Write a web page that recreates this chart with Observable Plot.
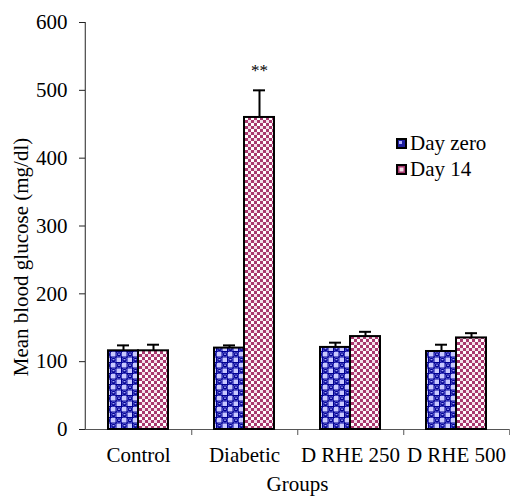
<!DOCTYPE html>
<html><head><meta charset="utf-8">
<script src="https://cdn.jsdelivr.net/npm/d3@7"></script>
<script src="https://cdn.jsdelivr.net/npm/@observablehq/plot@0.6"></script>
<style>
body{margin:0;background:#fff}
#wrap{position:relative;width:510px;height:497px;font-family:"Liberation Serif","Times New Roman",serif;color:#000}
#ylab{position:absolute;left:21px;top:257px;transform:translate(-50%,-50%) rotate(-90deg);white-space:nowrap;font-size:21px}
#legend{position:absolute;left:396px;top:130px;font-size:21px;line-height:26px}
#legend div{display:flex;align-items:center}
#legend svg{margin-right:3px}
</style>
</head><body><div id="wrap"></div>
<script>
const groups = ["Control", "Diabetic", "D RHE 250", "D RHE 500"];
const series = ["Day zero", "Day 14"];
const dayZero = [116, 120, 121, 115];
const dayZeroErr = [8, 4, 7, 10];
const day14 = [116, 460, 137, 135];
const day14Err = [9, 40, 7, 7];
const day14Sig = ["", "**", "", ""];
const yTicks = [0, 100, 200, 300, 400, 500, 600];
const yLabel = "Mean blood glucose (mg/dl)";
const xLabel = "Groups";

const rows = groups.flatMap((g, i) => [
  {group: g, series: series[0], value: dayZero[i], err: dayZeroErr[i], sig: ""},
  {group: g, series: series[1], value: day14[i], err: day14Err[i], sig: day14Sig[i]}
]);

const W = 510, ML = 84, MR = 0;
const band = (W - ML - MR) / groups.length;

const chart = Plot.plot({
  width: W, height: 497,
  marginLeft: ML, marginRight: MR, marginTop: 22, marginBottom: 68,
  style: {fontFamily: '"Liberation Serif","Times New Roman",serif', fontSize: "21px", background: "white", color: "black", overflow: "visible"},
  fx: {domain: groups, padding: 0},
  x: {domain: series, paddingInner: 0, paddingOuter: 0.746, axis: null},
  y: {domain: [0, 600], label: null},
  color: {type: "ordinal", domain: series, range: ["url(#pz)", "url(#p14)"]},
  marks: [
    Plot.ruleY([0], {stroke: "#555", strokeWidth: 1}),
    Plot.axisY({ticks: yTicks, tickSize: 6, tickPadding: 12, label: null, stroke: "#222"}),
    Plot.axisFx({anchor: "bottom", tickSize: 0, tickPadding: 18, label: xLabel, labelAnchor: "center", labelOffset: 61}),
    Plot.axisFx({anchor: "bottom", tickSize: 6, text: null, label: null, dx: band / 2, stroke: "#555"}),
    Plot.ruleX([{group: groups[0]}], {fx: "group", x: null, y1: () => 0, y2: () => 600, dx: -band / 2, stroke: "#222"}),
    Plot.barY(rows, {fx: "group", x: "series", y: "value", fill: "series", stroke: "black", strokeWidth: 2}),
    Plot.ruleX(rows, {fx: "group", x: "series", y1: "value", y2: d => d.value + d.err, stroke: "black", strokeWidth: 2}),
    Plot.tickY(rows, {fx: "group", x: "series", y: d => d.value + d.err, stroke: "black", strokeWidth: 2, insetLeft: 9, insetRight: 9}),
    Plot.text(rows.filter(d => d.sig), {fx: "group", x: "series", y: d => d.value + d.err, text: "sig", dy: -20, fontSize: 17})
  ]
});

d3.select(chart).insert("defs", ":first-child").html(`
  <pattern id="pz" patternUnits="userSpaceOnUse" width="11" height="11">
    <rect width="11" height="11" fill="#000090"/>
    <rect x="0" y="0" width="4.5" height="4.5" fill="#c8c8ff"/>
    <rect x="5.5" y="5.5" width="4.5" height="4.5" fill="#c8c8ff"/>
    <circle cx="8" cy="2.5" r="2.6" fill="none" stroke="#6868e0" stroke-width="0.8"/>
    <circle cx="2.5" cy="8" r="2.6" fill="none" stroke="#6868e0" stroke-width="0.8"/>
    <ellipse cx="8" cy="2.2" rx="1.2" ry="0.6" fill="#b0b0ff"/>
    <ellipse cx="2.5" cy="7.7" rx="1.2" ry="0.6" fill="#b0b0ff"/>
  </pattern>
  <pattern id="p14" patternUnits="userSpaceOnUse" width="6" height="6">
    <rect width="6" height="6" fill="#ffffff"/>
    <rect x="0" y="0" width="3" height="3" fill="#a8386e"/>
    <rect x="3" y="3" width="3" height="3" fill="#a8386e"/>
    <rect x="3" y="0" width="3" height="3" fill="#f3e0ea"/>
  </pattern>`);

const wrap = document.getElementById("wrap");
wrap.appendChild(chart);
const yl = document.createElement("div");
yl.id = "ylab"; yl.textContent = yLabel;
wrap.appendChild(yl);
const lg = document.createElement("div");
lg.id = "legend";
const swatch = [
  '<svg width="11" height="11"><rect x="1" y="1" width="9" height="9" fill="#2020a0" stroke="black" stroke-width="2"/><rect x="3" y="3" width="3" height="3" fill="#b0b0ff"/></svg>',
  '<svg width="11" height="11"><rect x="1" y="1" width="9" height="9" fill="#a8386e" stroke="black" stroke-width="2"/><rect x="3.5" y="3.5" width="4" height="4" fill="#f4e0ea"/></svg>'
];
series.forEach((s, i) => {
  const d = document.createElement("div");
  d.innerHTML = swatch[i] + "<span>" + s + "</span>";
  lg.appendChild(d);
});
wrap.appendChild(lg);
</script>
</body></html>
